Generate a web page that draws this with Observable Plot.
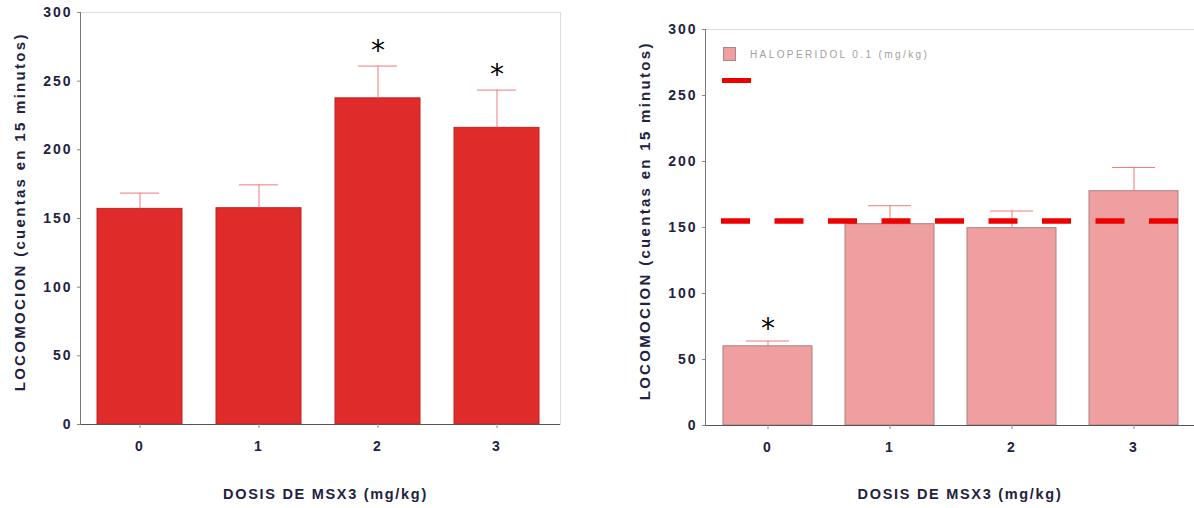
<!DOCTYPE html>
<html>
<head>
<meta charset="utf-8">
<script src="https://cdn.jsdelivr.net/npm/d3@7"></script>
<script src="https://cdn.jsdelivr.net/npm/@observablehq/plot@0.6"></script>
<style>
  body { margin: 0; background: #fff; }
  #wrap { position: relative; display: flex; width: 1194px; height: 508px; overflow: hidden; }
  #wrap svg { display: block; }
  #wrap svg [aria-label="y-axis tick label"] text,
  #wrap svg [aria-label="x-axis tick label"] text { letter-spacing: 2px; }
  #wrap svg .axis-title text { letter-spacing: 2.3px; }
  #wrap svg .axis-title-x text { letter-spacing: 1.7px; }
  .legend { position: absolute; font-family: "Liberation Sans", Arial, sans-serif; }
  .legend .swatch { position: absolute; left: 723px; top: 47px; width: 11px; height: 12px;
    background: #ef9f9f; border: 1px solid #b08484; }
  .legend .label { position: absolute; left: 750px; top: 49px; font-size: 10px; color: #a0a0a0;
    letter-spacing: 2.4px; white-space: nowrap; }
  .legend .dash { position: absolute; left: 722px; top: 78px; width: 29px; height: 5px; background: #ee0000; }
</style>
</head>
<body>
<div id="wrap"></div>
<script>
// Doses of MSX3 (mg/kg) on the x axis
const doses = ["0", "1", "2", "3"];

// MSX3 alone: mean locomotion counts and SEM
const msx3Mean = [157, 157.5, 237.5, 216];
const msx3Sem = [11.5, 17, 23.5, 27.5];
const msx3Signif = ["", "", "*", "*"];

// MSX3 + haloperidol 0.1 mg/kg: mean counts and SEM
const haloMean = [60, 152.5, 149.5, 177.5];
const haloSem = [4, 14, 13, 18];
const haloSignif = ["*", "", "", ""];

// Control (vehicle) locomotion level shown as the dashed reference line
const controlLevel = [155];

const yTicks = [0, 50, 100, 150, 200, 250, 300];
const yTitle = "LOCOMOCION (cuentas en 15 minutos)";
const xTitle = "DOSIS DE MSX3 (mg/kg)";
const legendLabel = "HALOPERIDOL 0.1 (mg/kg)";

const sans = "'Liberation Sans', Arial, sans-serif";

function rowsOf(means, sems, signif) {
  return doses.map((dose, i) => ({dose, mean: means[i], sem: sems[i], top: means[i] + sems[i], star: signif[i]}));
}

function panel({rows, width, marginLeft, marginRight, marginTop, marginBottom, padding, align, fill, stroke,
                capInset, starDy, xTitleDx, xTitleDy, extra = []}) {
  return Plot.plot({
    width, height: 508, marginLeft, marginRight, marginTop, marginBottom,
    style: {fontFamily: sans, color: "#22223f", background: "#fff"},
    x: {domain: doses, paddingInner: padding[0], paddingOuter: padding[1], align},
    y: {domain: [0, 300]},
    marks: [
      Plot.frame({stroke: "#dcdcdc"}),
      Plot.barY(rows, {x: "dose", y: "mean", fill, stroke, strokeWidth: 1}),
      Plot.ruleX(rows, {x: "dose", y1: "mean", y2: "top", stroke: "#f07a7a", strokeWidth: 1}),
      Plot.tickY(rows, {x: "dose", y: "top", stroke: "#f07a7a", strokeWidth: 1, insetLeft: capInset, insetRight: capInset}),
      ...extra,
      Plot.text(rows, {x: "dose", y: "top", text: "star", dy: starDy, fontSize: 28, fill: "#000",
        fontFamily: "'DejaVu Sans', sans-serif"}),
      Plot.ruleY([0], {stroke: "#555"}),
      Plot.frame({anchor: "left", stroke: "#777"}),
      Plot.axisY({ticks: yTicks, tickSize: 3, tickPadding: 5, stroke: "#888", fontSize: 14, fontWeight: "bold", label: null}),
      Plot.axisX({tickSize: 4, tickPadding: 13, stroke: "#888", fontSize: 14, fontWeight: "bold", label: null}),
      // axis titles
      Plot.text([yTitle], {frameAnchor: "left", textAnchor: "middle", lineAnchor: "middle", rotate: -90,
        dx: -60.5, dy: -6.7, fontSize: 15, fontWeight: "bold", fill: "#22223f", className: "axis-title"}),
      Plot.text([xTitle], {frameAnchor: "bottom", textAnchor: "middle", lineAnchor: "middle",
        dx: xTitleDx, dy: xTitleDy, fontSize: 14.5, fontWeight: "bold", fill: "#22223f", className: "axis-title-x"})
    ]
  });
}

const wrap = document.getElementById("wrap");

wrap.append(panel({
  rows: rowsOf(msx3Mean, msx3Sem, msx3Signif),
  width: 594, marginLeft: 80, marginRight: 34, marginTop: 12, marginBottom: 84,
  padding: [0.283, 0.142], align: 0.44, fill: "#e02b2b", stroke: "#c42222",
  capInset: 23, starDy: -15, xTitleDx: 5, xTitleDy: 69.5
}));

wrap.append(panel({
  rows: rowsOf(haloMean, haloSem, haloSignif),
  width: 600, marginLeft: 111, marginRight: 0, marginTop: 29, marginBottom: 83,
  padding: [0.268, 0.122], align: 0.53, fill: "#ef9f9f", stroke: "#a88080",
  capInset: 23, starDy: -12, xTitleDx: 10, xTitleDy: 68.5,
  extra: [Plot.ruleY(controlLevel, {stroke: "#ee0000", strokeWidth: 5.5, strokeDasharray: "29,24.5", insetLeft: 16})]
}));

// Legend of the haloperidol panel
const legend = document.createElement("div");
legend.className = "legend";
legend.innerHTML = `<div class="swatch"></div><div class="label"></div><div class="dash"></div>`;
legend.querySelector(".label").textContent = legendLabel;
wrap.append(legend);
</script>
</body>
</html>
